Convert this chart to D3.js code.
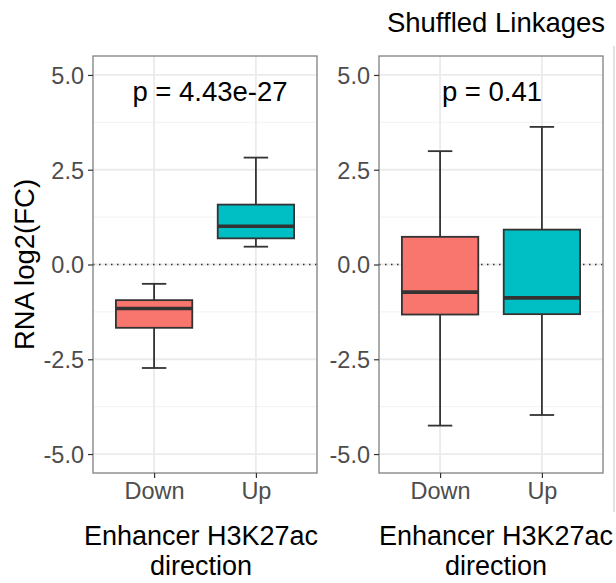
<!DOCTYPE html>
<html>
<head>
<meta charset="utf-8">
<script src="https://cdn.jsdelivr.net/npm/d3@7"></script>
<style>
  body { margin: 0; background: #fff; }
  svg { display: block; font-family: "Liberation Sans", Arial, Helvetica, sans-serif; }
</style>
</head>
<body>
<svg id="chart"></svg>
<script>
// box stats: [lower whisker, q1, median, q3, upper whisker]
const categories = ["Down", "Up"];
const colors = ["#F8766D", "#00BFC4"];
const linkedDown = [-2.73, -1.67, -1.16, -0.94, -0.51];
const linkedUp = [0.47, 0.69, 1.01, 1.58, 2.82];
const shuffledDown = [-4.25, -1.32, -0.73, 0.73, 2.99];
const shuffledUp = [-3.97, -1.31, -0.88, 0.92, 3.63];
const pLabels = ["p = 4.43e-27", "p = 0.41"];
const yTicks = [-5, -2.5, 0, 2.5, 5];
const yMinor = [-3.75, -1.25, 1.25, 3.75];
const panelTitle = "Shuffled Linkages";
const xTitle = ["Enhancer H3K27ac", "direction"];
const yTitle = "RNA log2(FC)";

const width = 616, height = 583;
const svg = d3.select("#chart").attr("width", width).attr("height", height);

const plotTop = 56, plotBottom = 473;
const y = d3.scaleLinear().domain([-5.5, 5.5]).range([plotBottom, plotTop]);
const fmt = d => d3.format(".1f")(d).replace("\u2212", "-");

const panels = [
  { left: 93, right: 317, boxes: [linkedDown, linkedUp], p: pLabels[0], pX: 210, titleX: 201 },
  { left: 379, right: 603, boxes: [shuffledDown, shuffledUp], p: pLabels[1], pX: 492, titleX: 496 }
];

panels.forEach(pn => {
  const x = d3.scalePoint().domain(categories).range([pn.left, pn.right]).padding(0.6);
  const step = x.step();
  const boxW = step * 0.75;
  const capW = step * 0.24;
  const g = svg.append("g");

  // grid
  g.selectAll(".minor").data(yMinor).enter().append("line")
    .attr("x1", pn.left).attr("x2", pn.right)
    .attr("y1", d => y(d)).attr("y2", d => y(d))
    .attr("stroke", "#F2F2F2").attr("stroke-width", 1);
  g.selectAll(".major").data(yTicks).enter().append("line")
    .attr("x1", pn.left).attr("x2", pn.right)
    .attr("y1", d => y(d)).attr("y2", d => y(d))
    .attr("stroke", "#EBEBEB").attr("stroke-width", 1.8);
  g.selectAll(".vmajor").data(categories).enter().append("line")
    .attr("x1", d => x(d)).attr("x2", d => x(d))
    .attr("y1", plotTop).attr("y2", plotBottom)
    .attr("stroke", "#EBEBEB").attr("stroke-width", 1.8);

  // zero reference
  g.append("line")
    .attr("x1", pn.left).attr("x2", pn.right)
    .attr("y1", y(0)).attr("y2", y(0))
    .attr("stroke", "#333").attr("stroke-width", 1.4)
    .attr("stroke-dasharray", "1.5,4.5");

  // boxes
  categories.forEach((c, i) => {
    const s = pn.boxes[i];
    const cx = x(c);
    const b = g.append("g").attr("stroke", "#333").attr("stroke-width", 1.8);
    b.append("line").attr("x1", cx).attr("x2", cx).attr("y1", y(s[0])).attr("y2", y(s[1]));
    b.append("line").attr("x1", cx).attr("x2", cx).attr("y1", y(s[3])).attr("y2", y(s[4]));
    b.append("line").attr("x1", cx - capW / 2).attr("x2", cx + capW / 2).attr("y1", y(s[0])).attr("y2", y(s[0]));
    b.append("line").attr("x1", cx - capW / 2).attr("x2", cx + capW / 2).attr("y1", y(s[4])).attr("y2", y(s[4]));
    b.append("rect")
      .attr("x", cx - boxW / 2).attr("width", boxW)
      .attr("y", y(s[3])).attr("height", y(s[1]) - y(s[3]))
      .attr("fill", colors[i]);
    b.append("line").attr("x1", cx - boxW / 2).attr("x2", cx + boxW / 2)
      .attr("y1", y(s[2])).attr("y2", y(s[2])).attr("stroke-width", 3.6);
  });

  // border
  g.append("rect")
    .attr("x", pn.left).attr("y", plotTop)
    .attr("width", pn.right - pn.left).attr("height", plotBottom - plotTop)
    .attr("fill", "none").attr("stroke", "#808080").attr("stroke-width", 1.3);

  // axes
  const ya = g.append("g").attr("transform", `translate(${pn.left},0)`)
    .call(d3.axisLeft(y).tickValues(yTicks).tickFormat(fmt).tickSize(5).tickPadding(4));
  const xa = g.append("g").attr("transform", `translate(0,${plotBottom})`)
    .call(d3.axisBottom(x).tickSize(5).tickPadding(4));
  [ya, xa].forEach(a => {
    a.select(".domain").remove();
    a.selectAll(".tick line").attr("stroke", "#333").attr("stroke-width", 1.2);
    a.selectAll(".tick text").attr("fill", "#4D4D4D").style("font-size", "23.5px")
      .style("font-family", "'Liberation Sans', Arial, sans-serif");
  });
  ya.selectAll(".tick text").attr("dy", "0.36em");
  xa.selectAll(".tick text").attr("dy", "0.74em");

  // p value
  g.append("text").attr("x", pn.pX).attr("y", y(4.3))
    .attr("text-anchor", "middle").style("font-size", "27.5px").attr("fill", "#000")
    .text(pn.p);

  // x title
  xTitle.forEach((t, k) => {
    g.append("text").attr("x", pn.titleX).attr("y", 545 + k * 30)
      .attr("text-anchor", "middle").style("font-size", "27px").attr("fill", "#000")
      .text(t);
  });
});

// y title
svg.append("text")
  .attr("transform", `translate(34,${y(0)}) rotate(-90)`)
  .attr("text-anchor", "middle").style("font-size", "27.5px").attr("fill", "#000")
  .text(yTitle);

// facet title
svg.append("text").attr("x", 496).attr("y", 32)
  .attr("text-anchor", "middle").style("font-size", "27.5px").attr("fill", "#000")
  .text(panelTitle);

// edge of the next plot, cut off at the right
svg.append("line").attr("x1", 614).attr("x2", 614).attr("y1", 46).attr("y2", 512)
  .attr("stroke", "#D9D9D9").attr("stroke-width", 1.5);
</script>
</body>
</html>
